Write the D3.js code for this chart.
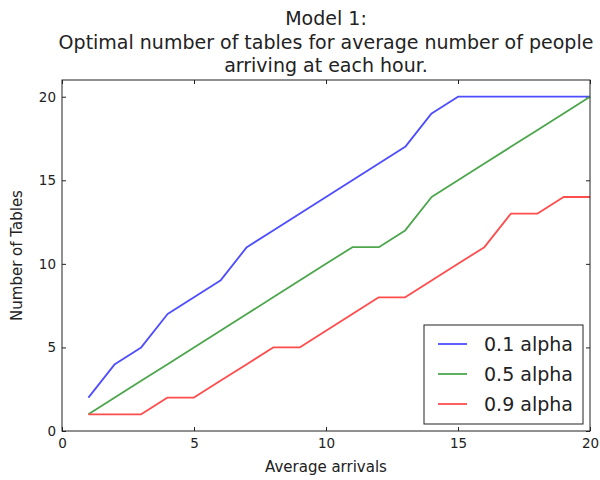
<!DOCTYPE html>
<html>
<head>
<meta charset="utf-8">
<script src="https://cdnjs.cloudflare.com/ajax/libs/d3/7.8.5/d3.min.js"></script>
<style>
  body { margin: 0; background: #fff; }
  text { font-family: "DejaVu Sans", sans-serif; fill: #222; }
</style>
</head>
<body>
<div id="chart"></div>
<script>
const arrivals = d3.range(1, 21);
const alpha01 = [2, 4, 5, 7, 8, 9, 11, 12, 13, 14, 15, 16, 17, 19, 20, 20, 20, 20, 20, 20];
const alpha05 = [1, 2, 3, 4, 5, 6, 7, 8, 9, 10, 11, 11, 12, 14, 15, 16, 17, 18, 19, 20];
const alpha09 = [1, 1, 1, 2, 2, 3, 4, 5, 5, 6, 7, 8, 8, 9, 10, 11, 13, 13, 14, 14];
const seriesNames = ["0.1 alpha", "0.5 alpha", "0.9 alpha"];
const xTicks = [0, 5, 10, 15, 20];
const yTicks = [0, 5, 10, 15, 20];

const width = 600, height = 480;
const margin = {left: 62, right: 10, top: 80, bottom: 49};
const innerW = width - margin.left - margin.right;
const innerH = height - margin.top - margin.bottom;

const svg = d3.select("#chart").append("svg")
    .attr("width", width)
    .attr("height", height);

const g = svg.append("g")
    .attr("transform", `translate(${margin.left}, ${margin.top})`);

const x = d3.scaleLinear().domain([0, 20]).range([0, innerW]);
const y = d3.scaleLinear().domain([0, 21]).range([innerH, 0]);

// axes, ticks pointing inward like matplotlib classic
function styleAxis(sel) {
    sel.select(".domain").remove();
    sel.selectAll(".tick line").attr("stroke", "#222");
    sel.selectAll(".tick text").style("font-size", "13.5px").style("font-family", "DejaVu Sans").attr("fill", "#222");
}
g.append("g")
    .attr("transform", `translate(0, ${innerH})`)
    .call(d3.axisBottom(x).tickValues(xTicks).tickSizeInner(-4).tickSizeOuter(0).tickPadding(7))
    .call(styleAxis);
g.append("g")
    .call(d3.axisTop(x).tickValues(xTicks).tickSizeInner(-4).tickSizeOuter(0).tickFormat(""))
    .call(styleAxis);
g.append("g")
    .call(d3.axisLeft(y).tickValues(yTicks).tickSizeInner(-4).tickSizeOuter(0).tickPadding(6))
    .call(styleAxis);
g.append("g")
    .attr("transform", `translate(${innerW}, 0)`)
    .call(d3.axisRight(y).tickValues(yTicks).tickSizeInner(-4).tickSizeOuter(0).tickFormat(""))
    .call(styleAxis);

const colors = ["#4d4dff", "#4ca64c", "#ff4d4d"];
const allSeries = [alpha01, alpha05, alpha09];

const line = d3.line()
    .x(function(d, i) { return x(arrivals[i]); })
    .y(function(d) { return y(d); });

allSeries.forEach(function(s, k) {
    g.append("path")
        .datum(s)
        .attr("fill", "none")
        .attr("stroke", colors[k])
        .attr("stroke-width", 1.8)
        .attr("stroke-linejoin", "round")
        .attr("d", line);
});

// frame
g.append("rect")
    .attr("width", innerW)
    .attr("height", innerH)
    .attr("fill", "none")
    .attr("stroke", "#222")
    .attr("stroke-width", 1);

// legend
const legend = g.append("g")
    .attr("transform", `translate(${innerW - 166}, ${innerH - 106})`);
legend.append("rect")
    .attr("width", 159)
    .attr("height", 99)
    .attr("fill", "#fff")
    .attr("stroke", "#222");
seriesNames.forEach(function(name, k) {
    let yy = 19 + k * 30;
    legend.append("line")
        .attr("x1", 14).attr("x2", 43)
        .attr("y1", yy).attr("y2", yy)
        .attr("stroke", colors[k])
        .attr("stroke-width", 1.8);
    legend.append("text")
        .attr("x", 60)
        .attr("y", yy)
        .attr("dy", "0.36em")
        .style("font-size", "19px")
        .text(name);
});

// titles and labels
const middle = margin.left + innerW / 2;
const titleLines = ["Model 1:", "Optimal number of tables for average number of people", "arriving at each hour."];
titleLines.forEach(function(t, i) {
    svg.append("text")
        .attr("x", middle)
        .attr("y", 25 + i * 23.5)
        .style("text-anchor", "middle")
        .style("font-size", "19px")
        .text(t);
});

svg.append("text")
    .attr("x", middle)
    .attr("y", 472)
    .style("text-anchor", "middle")
    .style("font-size", "15px")
    .text("Average arrivals");

svg.append("text")
    .attr("transform", `translate(22, ${margin.top + innerH / 2}) rotate(-90)`)
    .style("text-anchor", "middle")
    .style("font-size", "15px")
    .text("Number of Tables");
</script>
</body>
</html>
